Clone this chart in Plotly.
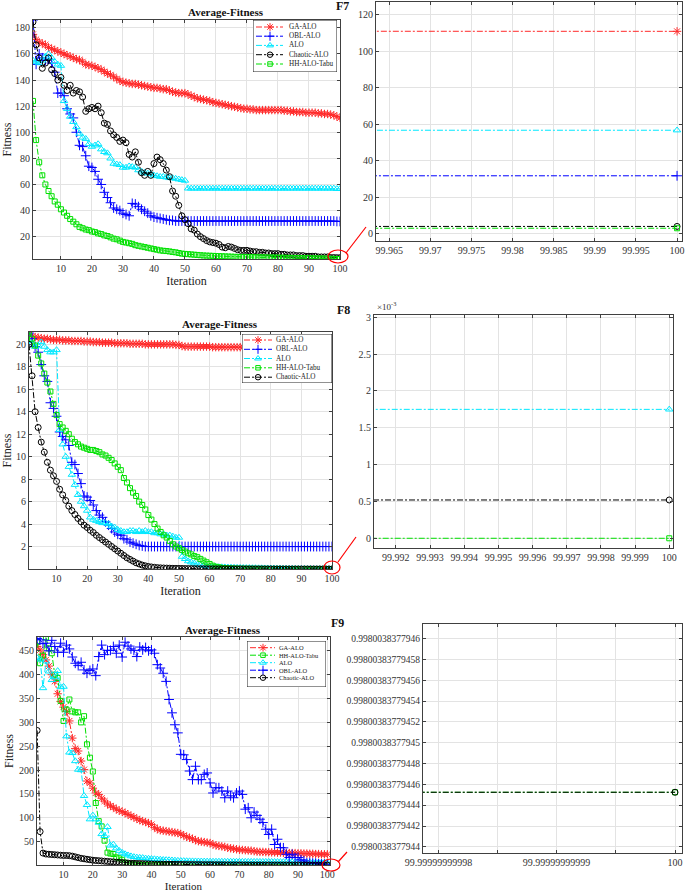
import plotly.graph_objects as go

W, H = 685, 892
ITER = list(range(1, 101))
OPT9 = 0.9980038377944524

# ---------------- F7 ----------------
F7_GA = [
    175, 171, 169, 168, 167, 165, 164, 163, 162, 161,
    160, 159, 158, 157, 156, 155.5, 154, 152, 151.5, 151,
    150, 149, 148, 146.5, 145, 144, 142.5, 141, 139.5, 138.5,
    138, 137.5, 137, 137, 136.5, 136, 135.5, 135, 134.5, 134,
    134, 133.5, 133, 133, 132, 131, 130.5, 130, 130, 130,
    129, 128, 127, 126, 125.5, 125, 124.5, 124, 123, 122.5,
    122, 121.5, 121, 120.5, 120, 119.5, 119, 118.5, 118, 118,
    117.5, 117.5, 117, 117, 117, 117, 117, 117, 117, 117,
    117, 116.5, 116.5, 116, 116, 115.5, 115.5, 115.5, 115, 115,
    115, 115, 114.5, 114.5, 114, 114, 113.5, 113, 112, 111]
F7_OBL = [
    186, 152, 160, 157, 155, 156, 153, 146, 130, 130,
    128, 118, 114, 111, 100, 90, 89, 82, 74, 73,
    70, 64, 60, 54, 50, 46, 42, 41, 40, 38,
    37, 36, 45.5, 45, 43, 41, 39.5, 38, 36, 35,
    34.5, 34, 33.5, 33, 32.5, 32.5, 32, 32, 32, 32,
    32, 32, 32, 32, 32, 32, 32, 32, 32, 32,
    32, 32, 32, 32, 32, 32, 32, 32, 32, 32,
    32, 32, 32, 32, 32, 32, 32, 32, 32, 32,
    32, 32, 32, 32, 32, 32, 32, 32, 32, 32,
    32, 32, 32, 32, 32, 32, 32, 32, 31.7, 31.7]
F7_ALO = [
    155, 154, 153, 155, 158, 160, 157, 154, 152, 151,
    124, 118, 112, 108, 104, 99, 96, 95, 91, 89,
    90, 91, 87, 85, 84, 80, 76, 75.5, 75, 73,
    73, 74, 73.5, 73, 71, 70, 69, 68.5, 68, 67,
    66.5, 66, 66, 65.5, 65, 65, 64.5, 64, 63.5, 63,
    57, 57, 57, 57, 57, 57, 57, 57, 57, 57,
    57, 57, 57, 57, 57, 57, 57, 57, 57, 57,
    57, 57, 57, 57, 57, 57, 57, 57, 57, 57,
    57, 57, 57, 57, 57, 57, 57, 57, 57, 57,
    57, 57, 57, 57, 57, 57, 57, 57, 56.7, 56.7]
F7_CH = [
    184.5, 167, 157, 149, 153, 157, 148, 145, 140, 142,
    136, 132, 136, 130, 132, 131, 127, 116, 118, 119,
    118, 120, 115, 107, 106, 101, 98, 96, 93, 94,
    92, 83, 81, 85, 77, 69, 67, 70, 67, 76,
    81, 79, 76, 71, 66, 55, 51, 44, 36, 33,
    30, 26, 25, 22, 20, 18.5, 17, 16, 15.5, 15,
    14, 12, 11.5, 12.5, 12, 11, 10, 9.5, 9.5, 9.5,
    9, 8.5, 8.5, 8, 8, 7.5, 7.5, 7, 7, 7,
    6.5, 6.5, 6, 6, 6, 5.5, 5.5, 5.5, 5, 5,
    5, 5, 4.5, 4.5, 4.5, 4.5, 4, 4, 3.9, 3.9]
F7_HH = [
    124, 94, 77, 67, 60, 55, 51, 47, 44.5, 41,
    38.5, 36, 33.5, 31.5, 29.5, 27.5, 26.5, 25.5, 25, 24,
    23.5, 22.5, 22, 21, 20.5, 19.5, 18.5, 18, 17, 16,
    15.5, 15, 14.5, 13.5, 13, 12.5, 12, 11.5, 11, 10.5,
    10, 9.5, 9.2, 9, 8.7, 8.3, 8, 7.5, 7, 6.8,
    6.6, 6.4, 6.2, 6, 5.8, 5.6, 5.5, 5.4, 5.3, 5.2,
    5.1, 5, 4.9, 4.8, 4.7, 4.6, 4.5, 4.5, 4.4, 4.4,
    4.3, 4.3, 4.2, 4.2, 4.1, 4.1, 4, 4, 4, 3.95,
    3.9, 3.85, 3.8, 3.75, 3.7, 3.65, 3.6, 3.55, 3.5, 3.45,
    3.4, 3.35, 3.3, 3.25, 3.2, 3.1, 3.05, 3.0, 2.9, 2.9]

# ---------------- F8 ----------------
F8_GA = [
    20.9, 20.7, 20.65, 20.6, 20.55, 20.5, 20.5, 20.45, 20.4, 20.4,
    20.4, 20.35, 20.35, 20.35, 20.3, 20.3, 20.3, 20.3, 20.25, 20.25,
    20.25, 20.2, 20.2, 20.2, 20.15, 20.15, 20.15, 20.15, 20.1, 20.1,
    20.1, 20.1, 20.1, 20.05, 20.05, 20.05, 20.05, 20.05, 20.0, 20.0,
    20.0, 20.0, 20.0, 20.0, 20.0, 20.0, 20.0, 20.0, 19.95, 19.95,
    19.85, 19.8, 19.8, 19.8, 19.8, 19.8, 19.8, 19.8, 19.8, 19.8,
    19.75, 19.75, 19.75, 19.75, 19.75, 19.75, 19.75, 19.75, 19.75, 19.75,
    19.75, 19.75, 19.75, 19.75, 19.75, 19.75, 19.75, 19.75, 19.75, 19.75,
    19.7, 19.7, 19.7, 19.7, 19.7, 19.7, 19.7, 19.7, 19.7, 19.7,
    19.65, 19.65, 19.65, 19.65, 19.6, 19.55, 19.55, 19.5, 19.5, 19.5]
F8_OBL = [
    21, 20.5, 19.8, 19.3, 18.2, 17.2, 16.7, 14.8, 14.3, 13.6,
    12.2, 11.8, 11.5, 11, 9.5, 9.3, 8.5, 7.6, 6.5, 6.4,
    6.1, 5.7, 5.2, 4.8, 4.6, 4.2, 3.9, 3.6, 3.3, 3.1,
    3.0, 2.7, 2.6, 2.4, 2.3, 2.2, 2.1, 2.05, 2.0, 2.0,
    2.0, 2.0, 2.0, 2.0, 2.0, 2.0, 2.0, 2.0, 2.0, 2.0,
    2.0, 2.0, 2.0, 2.0, 2.0, 2.0, 2.0, 2.0, 2.0, 2.0,
    2.0, 2.0, 2.0, 2.0, 2.0, 2.0, 2.0, 2.0, 2.0, 2.0,
    2.0, 2.0, 2.0, 2.0, 2.0, 2.0, 2.0, 2.0, 2.0, 2.0,
    2.0, 2.0, 2.0, 2.0, 2.0, 2.0, 2.0, 2.0, 2.0, 2.0,
    2.0, 2.0, 2.0, 2.0, 2.0, 2.0, 2.0, 2.0, 2.0, 2.0]
F8_ALO = [
    20.3, 20.1, 19.8, 19.9, 20.2, 19.8, 19.5, 19.3, 19.3, 19.5,
    12.4, 11.1, 10.0, 9.1, 8.4, 7.5, 6.6, 6.0, 5.6, 5.2,
    4.6, 4.4, 4.3, 4.2, 4.1, 4.1, 4.0, 3.8, 3.7, 3.5,
    3.4, 3.3, 3.3, 3.4, 3.4, 3.3, 3.4, 3.3, 3.4, 3.3,
    3.3, 3.2, 3.2, 3.1, 3.1, 3.0, 3.0, 2.9, 2.8, 2.8,
    1.1, 0.9, 0.7, 0.6, 0.5, 0.4, 0.35, 0.3, 0.25, 0.22,
    0.2, 0.2, 0.18, 0.17, 0.16, 0.15, 0.14, 0.13, 0.12, 0.12,
    0.11, 0.1, 0.1, 0.09, 0.09, 0.08, 0.08, 0.07, 0.07, 0.06,
    0.06, 0.05, 0.05, 0.04, 0.04, 0.03, 0.03, 0.025, 0.02, 0.02,
    0.015, 0.012, 0.01, 0.008, 0.006, 0.005, 0.004, 0.003, 0.00176, 0.00175]
F8_HH = [
    21.1, 20.5, 19.9, 19.0, 18.3, 17.4, 16.6, 15.8, 14.7, 13.7,
    12.9, 12.6, 12.3, 12.0, 11.6, 11.3, 11.1, 10.9, 10.8, 10.7,
    10.6, 10.6, 10.5, 10.4, 10.2, 10.1, 9.9, 9.7, 9.4, 9.1,
    8.8, 8.1, 7.7, 7.2, 6.8, 6.5, 6.0, 5.7, 5.3, 4.8,
    4.4, 4.0, 3.6, 3.3, 3.0, 2.8, 2.5, 2.2, 2.0, 1.85,
    1.7, 1.55, 1.4, 1.3, 1.15, 1.05, 0.9, 0.75, 0.6, 0.45,
    0.3, 0.2, 0.15, 0.1, 0.08, 0.06, 0.05, 0.04, 0.03, 0.025,
    0.02, 0.018, 0.015, 0.012, 0.01, 0.008, 0.007, 0.006, 0.005, 0.004,
    0.003, 0.003, 0.002, 0.002, 0.001, 0.001, 0.001, 0.0008, 0.0006, 0.0005,
    0.0004, 0.0003, 0.0002, 0.0002, 0.0001, 0.0001, 0.00005, 0.00002, 0.0, 0.0]
F8_CH = [
    20.0, 17.2, 14.0, 12.6, 11.3, 10.4, 9.5, 8.8, 8.3, 7.8,
    7.1, 6.6, 6.1, 5.6, 5.2, 4.85, 4.5, 4.2, 3.9, 3.7,
    3.45, 3.25, 3.0, 2.8, 2.6, 2.4, 2.2, 2.0, 1.8, 1.6,
    1.4, 1.2, 1.0, 0.85, 0.7, 0.55, 0.45, 0.35, 0.28, 0.22,
    0.18, 0.15, 0.12, 0.1, 0.09, 0.08, 0.07, 0.06, 0.055, 0.05,
    0.045, 0.04, 0.036, 0.032, 0.029, 0.026, 0.023, 0.021, 0.019, 0.017,
    0.015, 0.014, 0.013, 0.012, 0.011, 0.01, 0.009, 0.0085, 0.008, 0.0075,
    0.007, 0.0065, 0.006, 0.0058, 0.0055, 0.0052, 0.005, 0.0047, 0.0044, 0.0042,
    0.004, 0.0038, 0.0036, 0.0034, 0.0032, 0.003, 0.0028, 0.0026, 0.0024, 0.0022,
    0.002, 0.0018, 0.0016, 0.0014, 0.0012, 0.001, 0.0008, 0.0007, 0.00052, 0.00052]

# ---------------- F9 ----------------
F9_GA = [
    459, 452, 442, 431, 418, 400, 386, 360, 344, 332,
    323, 303, 267, 245, 240, 219, 201, 177, 173, 162,
    152, 149, 141, 135, 129, 125, 122, 118, 115, 113,
    110, 107, 104, 101, 98, 95, 93, 91, 89, 86,
    80, 76, 74, 73, 72, 71, 70, 69, 68, 66,
    63, 60, 58, 56, 53, 51, 50, 49, 48, 47,
    44, 42, 41, 40, 39, 37, 36, 35, 34, 33,
    32.5, 32, 31.5, 31, 30, 29, 28.5, 28.5, 28, 28,
    27.5, 27.5, 27, 27, 26.5, 26.5, 26, 26, 26, 25.5,
    25.5, 25, 25, 24.5, 24.5, 24, 24, 23.5, 23.5, 23.5]
F9_HH = [
    469, 424, 440, 478, 455, 445, 400, 393, 345, 303,
    327, 348, 323, 321, 321, 300, 313, 254, 226, 197,
    131, 93, 82, 52, 27, 25, 24, 17, 15, 12,
    6, 4, 2.5, 1.8, 1.4, 1.35, 1.3, 1.25, 1.2, 1.18,
    1.16, 1.14, 1.12, 1.1, 1.09, 1.08, 1.07, 1.06, 1.05, 1.045,
    1.04, 1.035, 1.03, 1.027, 1.024, 1.021, 1.018, 1.015, 1.013, 1.011,
    1.009, 1.008, 1.007, 1.006, 1.005, 1.004, 1.003, 1.0025, 1.002, 1.0015,
    1.001, 1.0007, 1.0005, 0.9998, 0.9993, 0.999, 0.9987, 0.9985, 0.9983, 0.9982,
    0.99812, 0.99806, 0.99803, 0.998015, 0.998008, 0.998005, 0.9980042, 0.99800385, 0.99800384, OPT9,
    OPT9, OPT9, OPT9, OPT9, OPT9, OPT9, OPT9, OPT9, OPT9, OPT9]
F9_ALO = [
    435, 432, 372, 428, 407, 389, 395, 408, 374, 375,
    271, 237, 236, 219, 201, 200, 146, 127, 97, 105,
    97, 90, 66, 62, 81, 42, 44, 36, 31, 27,
    24, 21.5, 19.5, 18, 17, 16.5, 16, 15, 14.5, 14,
    13.5, 13, 12.5, 12, 11.7, 11.4, 11, 10.6, 10.2, 9.8,
    9.6, 9.4, 9.2, 9.1, 9, 8.9, 8.8, 8.7, 8.6, 8.5,
    8.4, 8.4, 8.35, 8.35, 8.3, 8.3, 8.25, 8.25, 8.2, 8.2,
    8.15, 8.15, 8.1, 8.1, 8.05, 8.05, 8.0, 8.0, 8.0, 8.0,
    7.9, 7.8, 7.7, 7.6, 7.5, 7.4, 7.3, 7.2, 7.1, 7.0,
    6.9, 6.8, 6.7, 6.6, 6.5, 6.4, 6.3, 6.2, 6.1, 6.0]
F9_OBL = [
    476, 473, 465, 466, 450, 472, 459, 447, 466, 447,
    462, 454, 437, 424, 419, 426, 410, 403, 409, 412,
    398, 438, 462, 442, 451, 451, 459, 445, 462, 437,
    468, 460, 454, 451, 438, 458, 452, 457, 450, 452,
    445, 421, 414, 403, 386, 348, 320, 295, 278, 233,
    232, 222, 198, 180, 208, 180, 180, 191, 194, 173,
    152, 163, 163, 156, 142, 156, 146, 142, 152, 156,
    149, 118, 121, 100, 112, 105, 97, 90, 76, 65,
    76, 44, 55, 37.6, 37, 23.5, 16.6, 23.5, 16.6, 16.6,
    12, 9.6, 6, 6, 5, 4.8, 3.5, 2.8, 2.6, 2.6]
F9_CH = [
    283, 71, 26, 24, 23.5, 23, 22.5, 22, 21.5, 21,
    21, 20.5, 19.5, 18, 16.5, 15, 14, 13, 12, 11,
    10.5, 10, 9.5, 9, 8.5, 8, 7.5, 7, 6.5, 6,
    5.5, 5, 4.8, 4.5, 4.2, 4, 3.8, 3.6, 3.4, 3.2,
    3, 2.9, 2.8, 2.7, 2.6, 2.5, 2.4, 2.3, 2.2, 2.1,
    2.0, 1.95, 1.9, 1.85, 1.8, 1.75, 1.7, 1.65, 1.6, 1.55,
    1.5, 1.45, 1.4, 1.36, 1.32, 1.28, 1.24, 1.2, 1.17, 1.14,
    1.11, 1.09, 1.07, 1.05, 1.04, 1.03, 1.02, 1.012, 1.006, 1.002,
    0.9995, 0.9988, 0.9984, 0.99815, 0.99806, 0.998015, 0.998006, 0.9980042, 0.99800386, OPT9,
    OPT9, OPT9, OPT9, OPT9, OPT9, OPT9, OPT9, OPT9, OPT9, OPT9]

# tick labels
LEFT_X_TICKS = [10, 20, 30, 40, 50, 60, 70, 80, 90, 100]
F7_Y_TICKS = [20, 40, 60, 80, 100, 120, 140, 160, 180]
F8_Y_TICKS = [2, 4, 6, 8, 10, 12, 14, 16, 18, 20]
F9_Y_TICKS = [50, 100, 150, 200, 250, 300, 350, 400, 450]
F7R_X_VALS = [99.965, 99.970, 99.975, 99.980, 99.985, 99.990, 99.995, 100.0]
F7R_X_TEXT = ['99.965', '99.97', '99.975', '99.98', '99.985', '99.99', '99.995', '100']
F7R_Y_VALS = [0, 20, 40, 60, 80, 100, 120]
F8R_X_VALS = [99.992, 99.993, 99.994, 99.995, 99.996, 99.997, 99.998, 99.999, 100.0]
F8R_X_TEXT = ['99.992', '99.993', '99.994', '99.995', '99.996', '99.997', '99.998', '99.999', '100']
F8R_Y_VALS = [0, 0.0005, 0.001, 0.0015, 0.002, 0.0025, 0.003]
F8R_Y_TEXT = ['0', '0.5', '1', '1.5', '2', '2.5', '3']
F9R_X_VALS = [99.99999999998, 99.99999999999, 100.0]
F9R_X_TEXT = ['99.99999999998', '99.99999999999', '100']
F9R_X_MINOR = [99.999999999985, 99.999999999995]
F9R_Y_VALS = [0.9980038377944, 0.99800383779442, 0.99800383779444, 0.99800383779446,
              0.99800383779448, 0.9980038377945, 0.99800383779452, 0.99800383779454,
              0.99800383779456, 0.99800383779458, 0.9980038377946]
F9R_Y_TEXT = ['0.9980038377944', '0.99800383779442', '0.99800383779444', '0.99800383779446',
              '0.99800383779448', '0.9980038377945', '0.99800383779452', '0.99800383779454',
              '0.99800383779456', '0.99800383779458', '0.9980038377946']

for arr in [F7_GA, F7_OBL, F7_ALO, F7_CH, F7_HH, F8_GA, F8_OBL, F8_ALO, F8_HH, F8_CH,
            F9_GA, F9_HH, F9_ALO, F9_OBL, F9_CH]:
    assert len(arr) == 100, len(arr)

FONT = 'Liberation Serif'
DASH = '6px,2px,2px,2px'
STYLE = {
    'GA-ALO': dict(color='#ff2a2a', symbol='asterisk-open', size=7),
    'OBL-ALO': dict(color='#0000ff', symbol='cross-thin-open', size=7),
    'ALO': dict(color='#00e8ff', symbol='triangle-up-open', size=6.5),
    'Chaotic-ALO': dict(color='#000000', symbol='circle-open', size=6),
    'HH-ALO-Tabu': dict(color='#00e000', symbol='square-open', size=5),
}

PANELS = [
    dict(tag='F7',
         series=[('GA-ALO', F7_GA), ('OBL-ALO', F7_OBL), ('ALO', F7_ALO),
                 ('Chaotic-ALO', F7_CH), ('HH-ALO-Tabu', F7_HH)],
         L=dict(px=(33, 340, 20, 259), xr=[1, 100], yr=[2.9, 186], yt=F7_Y_TICKS),
         R=dict(px=(376, 682, 2, 241), xr=[99.9634, 100.0006], yr=[-4.1, 127.1],
                xv=F7R_X_VALS, xt=F7R_X_TEXT, yv=F7R_Y_VALS, yt=[str(v) for v in F7R_Y_VALS]),
         title=(186, 12), label=(342, 6), xtitle=12,
         legend=dict(box=(253, 20, 337, 72), rows=[27, 36.2, 45.4, 54.7, 64], line=(256, 283), mk=270,
                     tx=287, fs=7.2),
         ellipse=(328, 250, 348, 263), arrow=(346, 253, 366, 227)),
    dict(tag='F8',
         series=[('GA-ALO', F8_GA), ('OBL-ALO', F8_OBL), ('ALO', F8_ALO),
                 ('HH-ALO-Tabu', F8_HH), ('Chaotic-ALO', F8_CH)],
         L=dict(px=(29, 332, 332, 569), xr=[1, 100], yr=[0, 21.1], yt=F8_Y_TICKS),
         R=dict(px=(374, 673, 315, 548), xr=[99.99136, 100.00011], yr=[-0.000132, 0.003031],
                xv=F8R_X_VALS, xt=F8R_X_TEXT, yv=F8R_Y_VALS, yt=F8R_Y_TEXT),
         title=(180, 324), label=(343, 310), xtitle=12,
         legend=dict(box=(242, 334, 332, 383), rows=[340, 349.3, 358.5, 367.8, 377.2], line=(244, 272), mk=258,
                     tx=274, fs=7.2),
         ellipse=(324, 561, 340, 574), arrow=(338, 562, 356, 537)),
    dict(tag='F9',
         series=[('GA-ALO', F9_GA), ('HH-ALO-Tabu', F9_HH), ('ALO', F9_ALO),
                 ('OBL-ALO', F9_OBL), ('Chaotic-ALO', F9_CH)],
         L=dict(px=(37, 330, 637, 865), xr=[0.95, 100.9], yr=[0.998, 479], yt=F9_Y_TICKS),
         R=dict(px=(423, 682, 624, 853), xr=[99.9999999999787, 100.0000000000006],
                yr=[0.998003837794394, 0.998003837794614],
                xv=F9R_X_VALS, xt=F9R_X_TEXT, yv=F9R_Y_VALS, yt=F9R_Y_TEXT),
         title=(183, 630), label=(337, 623), xtitle=11,
         legend=dict(box=(247, 641, 326, 687), rows=[647.7, 655.2, 662.7, 670.2, 677.7], line=(250, 275), mk=263,
                     tx=277, fs=6.4),
         ellipse=(322, 859, 340, 871), arrow=(338, 862, 347, 852)),
]


def dom_x(a, b):
    return [a / W, b / W]


def dom_y(top, bottom):
    return [1 - bottom / H, 1 - top / H]


AX = dict(showline=True, linecolor='#404040', linewidth=1, mirror='ticks', ticks='inside',
          ticklen=3, tickcolor='#404040', showgrid=True, gridcolor='#e3e3e3', gridwidth=1,
          zeroline=False, automargin=False, tickfont=dict(family=FONT, size=10, color='#333333'))

fig = go.Figure()
layout = dict(width=W, height=H, margin=dict(l=0, r=0, t=0, b=0, autoexpand=False), paper_bgcolor='white',
              plot_bgcolor='white', showlegend=False, font=dict(family=FONT, color='#222'))
annotations = []
shapes = []

n = 0
for p in PANELS:
    iL, iR, iG = 2 * n + 1, 2 * n + 2, 7 + n
    sL = '' if iL == 1 else str(iL)
    sR, sG = str(iR), str(iG)
    L, R = p['L'], p['R']
    layout['xaxis' + sL] = dict(AX, domain=dom_x(L['px'][0], L['px'][1]), range=L['xr'],
                                tickvals=LEFT_X_TICKS, anchor='y' + sL,
                                title=dict(text='Iteration', standoff=1,
                                           font=dict(family=FONT, size=p['xtitle'])))
    layout['yaxis' + sL] = dict(AX, domain=dom_y(L['px'][2], L['px'][3]), range=L['yr'],
                                tickvals=L['yt'], anchor='x' + sL,
                                title=dict(text='Fitness', standoff=2, font=dict(family=FONT, size=12)))
    layout['xaxis' + sR] = dict(AX, domain=dom_x(R['px'][0], R['px'][1]), range=R['xr'],
                                tickvals=R['xv'], ticktext=R['xt'], anchor='y' + sR)
    layout['yaxis' + sR] = dict(AX, domain=dom_y(R['px'][2], R['px'][3]), range=R['yr'],
                                tickvals=R['yv'], ticktext=R['yt'], anchor='x' + sR)
    if p['tag'] == 'F9':
        layout['yaxis' + sR]['tickfont'] = dict(family=FONT, size=9.5, color='#333333')
        layout['xaxis' + sR]['minor'] = dict(tickvals=F9R_X_MINOR, showgrid=True, gridcolor='#e3e3e3',
                                             ticks='inside', ticklen=3, tickcolor='#404040')
    for name, vals in p['series']:
        st = STYLE[name]
        for xa, ya in (('x' + sL, 'y' + sL), ('x' + sR, 'y' + sR)):
            fig.add_trace(go.Scatter(
                x=ITER, y=vals, xaxis=xa, yaxis=ya, mode='lines+markers', name=name,
                line=dict(color=st['color'], width=1, dash=DASH),
                marker=dict(symbol=st['symbol'], size=st['size'], color=st['color'],
                            line=dict(color=st['color'], width=1))))
    # legend (drawn in its own small axes)
    lg = p['legend']
    bx0, by0, bx1, by1 = lg['box']
    layout['xaxis' + sG] = dict(domain=dom_x(bx0, bx1), range=[bx0, bx1], visible=False,
                                anchor='y' + sG, fixedrange=True, automargin=False)
    layout['yaxis' + sG] = dict(domain=dom_y(by0, by1), range=[by1, by0], visible=False,
                                anchor='x' + sG, fixedrange=True, automargin=False)
    fig.add_trace(go.Scatter(x=[bx0, bx1, bx1, bx0, bx0], y=[by0, by0, by1, by1, by0],
                             xaxis='x' + sG, yaxis='y' + sG, mode='lines', fill='toself',
                             fillcolor='white', line=dict(color='#222', width=1), hoverinfo='skip'))
    for (name, _), ry in zip(p['series'], lg['rows']):
        st = STYLE[name]
        fig.add_trace(go.Scatter(x=[lg['line'][0], lg['line'][1]], y=[ry, ry], xaxis='x' + sG,
                                 yaxis='y' + sG, mode='lines', hoverinfo='skip',
                                 line=dict(color=st['color'], width=1, dash=DASH)))
        fig.add_trace(go.Scatter(x=[lg['mk']], y=[ry], xaxis='x' + sG, yaxis='y' + sG,
                                 mode='markers', hoverinfo='skip',
                                 marker=dict(symbol=st['symbol'], size=st['size'] - 0.5, color=st['color'],
                                             line=dict(color=st['color'], width=1))))
        annotations.append(dict(x=lg['tx'], y=ry, xref='x' + sG, yref='y' + sG, text=name,
                                showarrow=False, xanchor='left', yanchor='middle',
                                font=dict(family=FONT, size=lg['fs'], color='#222')))
    annotations.append(dict(x=p['title'][0] / W, y=1 - p['title'][1] / H, xref='paper', yref='paper',
                            text='<b>Average-Fitness</b>', showarrow=False, yanchor='middle',
                            font=dict(family=FONT, size=11, color='#111')))
    annotations.append(dict(x=p['label'][0] / W, y=1 - p['label'][1] / H, xref='paper', yref='paper',
                            text='<b>%s</b>' % p['tag'], showarrow=False, yanchor='middle',
                            font=dict(family=FONT, size=12, color='#111')))
    ex0, ey0, ex1, ey1 = p['ellipse']
    shapes.append(dict(type='circle', xref='paper', yref='paper', x0=ex0 / W, x1=ex1 / W,
                       y0=1 - ey1 / H, y1=1 - ey0 / H, line=dict(color='#ff0000', width=1.2)))
    ax0, ay0, ax1, ay1 = p['arrow']
    shapes.append(dict(type='line', xref='paper', yref='paper', x0=ax0 / W, x1=ax1 / W,
                       y0=1 - ay0 / H, y1=1 - ay1 / H, line=dict(color='#ff0000', width=1.2)))
    n += 1

annotations.append(dict(x=386 / W, y=1 - 306 / H, xref='paper', yref='paper',
                        text='\u00d710<sup>-3</sup>', showarrow=False, yanchor='middle',
                        font=dict(family=FONT, size=9, color='#333')))

layout['annotations'] = annotations
layout['shapes'] = shapes
fig.update_layout(**layout)
fig.write_html('out.html', config={'displayModeBar': False},
               post_script="document.body.style.margin='0px';")
